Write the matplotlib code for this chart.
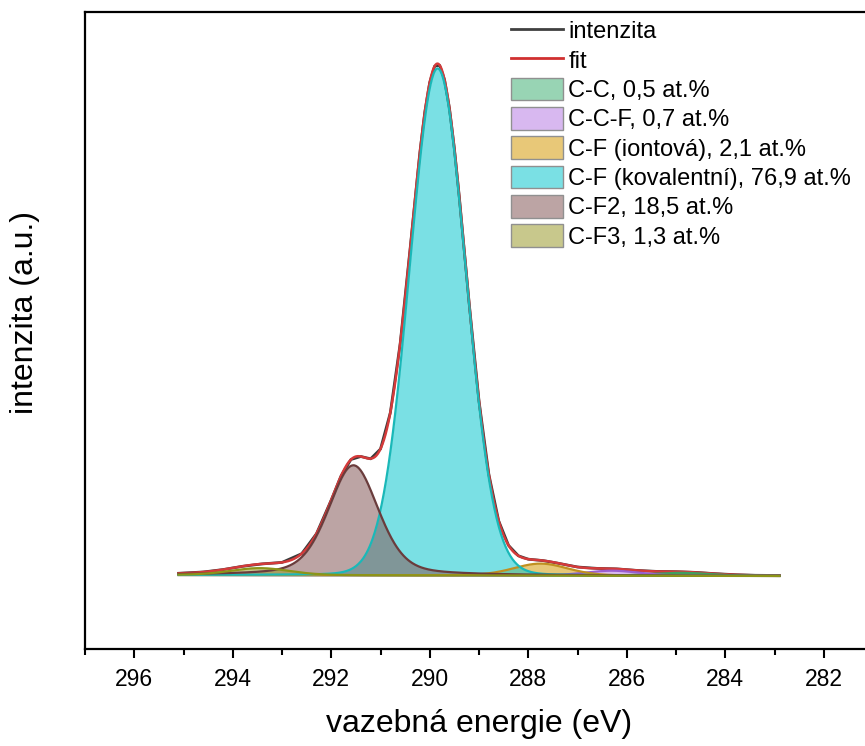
import matplotlib
matplotlib.use("Agg")
import matplotlib.pyplot as plt
from matplotlib.lines import Line2D
from matplotlib.patches import Patch
import numpy as np

plt.rcParams['font.family'] = ['Liberation Sans', 'DejaVu Sans']

# namerena data, vazebna energie v eV
energie = [295.1, 294.6, 294.2, 293.8, 293.4, 293.0, 292.6, 292.3, 292.0, 291.8,
           291.6, 291.4, 291.2, 291.0, 290.8, 290.6, 290.4, 290.2, 290.1, 290.0,
           289.9, 289.8, 289.7, 289.6, 289.5, 289.4, 289.2, 289.0, 288.8, 288.6,
           288.4, 288.2, 288.0, 287.7, 287.4, 287.0, 286.6, 286.2, 285.8, 285.4,
           285.0, 284.6, 284.2, 283.8, 283.4, 282.9]
intenzita = [2.7, 4.0, 6.4, 9.7, 12.1, 13.6, 22.3, 42.3, 76.0, 100.2,
             116.5, 119.5, 117.2, 127.0, 163.4, 232.5, 326.6, 423.7, 464.0, 493.7,
             509.9, 510.7, 496.3, 467.7, 427.4, 379.1, 272.9, 175.1, 101.6, 55.1,
             30.6, 20.2, 16.8, 15.4, 12.8, 9.0, 7.6, 7.1, 5.6, 4.6,
             4.3, 3.6, 2.3, 1.3, 0.7, 0.5]

# pozadi (linearni) - hodnoty na koncich
pozadi_e = [282.9, 295.1]
pozadi_i = [0.0, 1.0]

# komponenty fitu (pseudo-Voigt)
nazvy = ["C-C, 0,5 at.%", "C-C-F, 0,7 at.%", "C-F (iontová), 2,1 at.%",
         "C-F (kovalentní), 76,9 at.%", "C-F2, 18,5 at.%", "C-F3, 1,3 at.%"]
centra = [284.9, 286.3, 287.75, 289.84, 291.55, 293.45]
vysky = [3.0, 5.0, 12.0, 507.0, 110.0, 7.0]
fwhm = [1.41, 1.30, 1.30, 1.34, 1.20, 1.41]
lorentz = [0.2, 0.2, 0.2, 0.03, 0.35, 0.2]

barvy_vypln = ['#44b176', '#b87ee4', '#d59b0a', '#0dc7ce', '#855a5a', '#9b9b2e']
barvy_hrana = ['#3f9f5f', '#9a5fd0', '#c09020', '#1ab8b8', '#6a3c3c', '#8c9418']
barvy_legenda = ['#98d4b4', '#d8b8f0', '#e8c878', '#7ae0e4', '#bca4a4', '#c8c88c']

def pvoigt(x, c, h, w, m):
    u = (x-c)/(w/2)
    return h*((1-m)*np.exp(-np.log(2)*u**2) + m/(1+u**2))

x = np.linspace(295.1, 282.9, 800)
bg = np.interp(x, pozadi_e, pozadi_i)

fig = plt.figure(figsize=(8.65, 7.46), dpi=100)
ax = fig.add_axes([85/865, 97/746, 788/865, 637/746])

fit = bg.copy()
for i in range(len(nazvy)):
    fit = fit + pvoigt(x, centra[i], vysky[i], fwhm[i], lorentz[i])

ax.plot(energie, intenzita, color='#3a3a3a', lw=2.0, zorder=3)
ax.plot(x, fit, color='#d43a3a', lw=1.8, zorder=3.5)

for i in range(len(nazvy)):
    y = pvoigt(x, centra[i], vysky[i], fwhm[i], lorentz[i])
    ax.fill_between(x, bg, bg+y, color=barvy_vypln[i], alpha=0.55, lw=0, zorder=2+i*0.01)
    ax.plot(x, bg+y, color=barvy_hrana[i], lw=1.6, zorder=4+i*0.01)

ax.set_xlim(297, 281)
ax.set_ylim(-73, 564)
ax.set_xticks([296, 294, 292, 290, 288, 286, 284, 282])
ax.set_xticks([297, 295, 293, 291, 289, 287, 285, 283, 281], minor=True)
ax.set_yticks([])
ax.tick_params(axis='x', which='major', direction='out', length=6.5, width=1.5,
               labelsize=16.5, pad=7)
ax.tick_params(axis='x', which='minor', direction='out', length=4, width=1.5)
for s in ax.spines.values():
    s.set_linewidth(1.6)

ax.set_xlabel("vazebná energie (eV)", fontsize=23, labelpad=13)
ax.set_ylabel("intenzita (a.u.)", fontsize=23)
ax.yaxis.set_label_coords(-0.057, 0.529)

handles = [Line2D([], [], color='#404040', lw=2), Line2D([], [], color='#d03030', lw=2)]
for i in range(len(nazvy)):
    handles.append(Patch(facecolor=barvy_legenda[i], edgecolor='#909090', lw=1))
labels = ["intenzita", "fit"] + nazvy
ax.legend(handles, labels, loc='upper left', bbox_to_anchor=(511/865, 1-19/746),
          bbox_transform=fig.transFigure, frameon=False, fontsize=17,
          handlelength=2.2, handleheight=1.1, handletextpad=0.22,
          labelspacing=0.21, borderpad=0, borderaxespad=0)

fig.savefig("out.png", dpi=100)
